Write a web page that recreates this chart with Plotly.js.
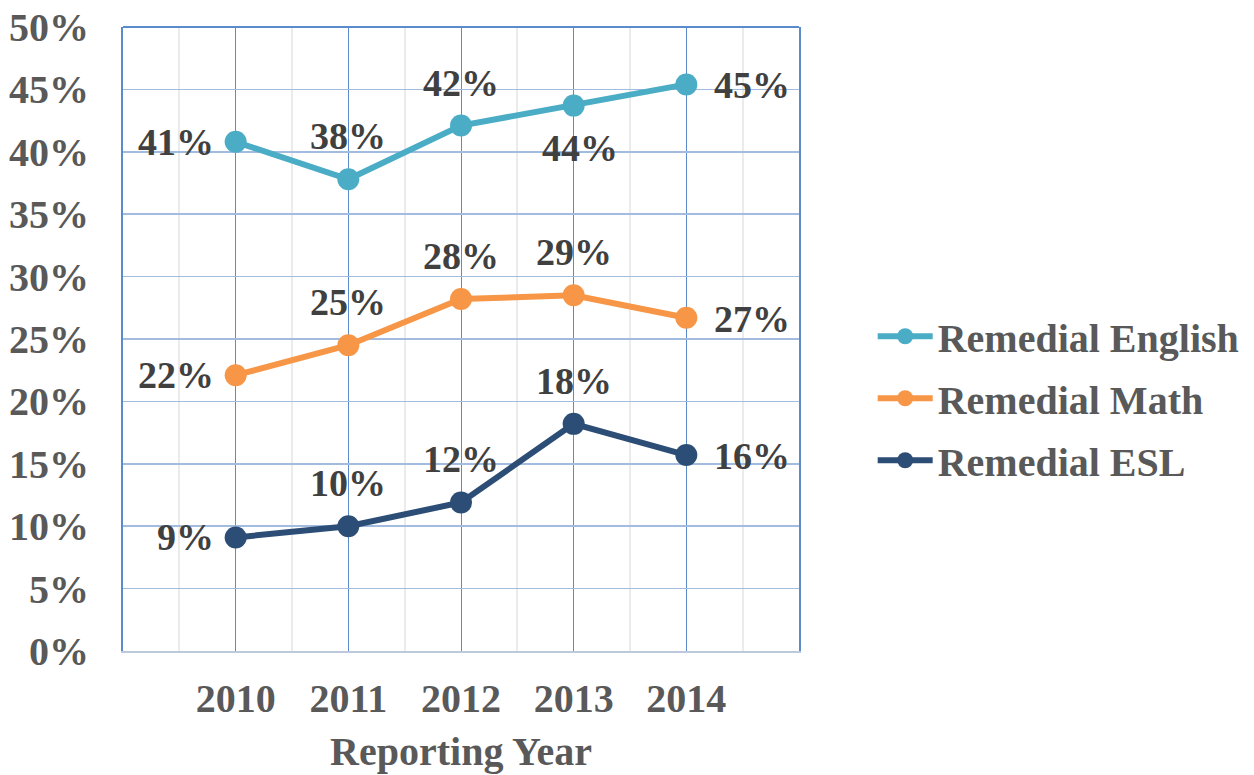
<!DOCTYPE html>
<html>
<head>
<meta charset="utf-8">
<script src="https://cdn.plot.ly/plotly-3.0.1.min.js"></script>
<style>html,body{margin:0;padding:0;background:#fff;}#chart{width:1254px;height:775px;}</style>
</head>
<body>
<div id="chart"></div>
<script>
const years = [2010, 2011, 2012, 2013, 2014];
const english = [40.8, 37.8, 42.1, 43.7, 45.4];
const math = [22.1, 24.5, 28.2, 28.5, 26.7];
const esl = [9.1, 10.0, 11.9, 18.2, 15.7];
const englishLabels = ['41%', '38%', '42%', '44%', '45%'];
const mathLabels = ['22%', '25%', '28%', '29%', '27%'];
const eslLabels = ['9%', '10%', '12%', '18%', '16%'];
const yTicks = [0, 5, 10, 15, 20, 25, 30, 35, 40, 45, 50];

const englishPos = ['left', 'top', 'top', 'bottom', 'right'];
const mathPos = ['left', 'top', 'top', 'top', 'right'];
const eslPos = ['left', 'top', 'top', 'top', 'right'];

const FONT = 'Liberation Serif, Times New Roman, serif';
const C_EN = '#4BACC6', C_MA = '#F79646', C_ES = '#2C4D75';

function trace(name, ys, color, grp) {
  return {
    type: 'scatter', mode: 'lines+markers', name: name, x: years, y: ys,
    legendgroup: grp,
    line: {color: color, width: 6},
    marker: {color: color, size: 22},
    cliponaxis: false
  };
}

function labels(ys, txt, pos) {
  return ys.map((v, i) => {
    const a = {x: years[i], y: v, text: txt[i], showarrow: false, xref: 'x', yref: 'y',
      font: {family: FONT, size: 38, color: '#404040', weight: 'bold'}};
    if (pos[i] === 'left') { a.xanchor = 'right'; a.xshift = -20; a.yshift = 0; }
    else if (pos[i] === 'right') { a.xanchor = 'left'; a.xshift = 26; a.yshift = -1; }
    else if (pos[i] === 'top') { a.yanchor = 'middle'; a.yshift = 43; }
    else { a.yanchor = 'middle'; a.yshift = -42; a.xshift = 6; }
    return a;
  });
}

const data = [
  trace('Remedial English', english, C_EN, 'a'),
  trace('Remedial Math', math, C_MA, 'b'),
  trace('Remedial ESL', esl, C_ES, 'c')
];

const layout = {
  width: 1254, height: 775,
  margin: {l: 123, r: 455, t: 27, b: 124, autoexpand: false},
  paper_bgcolor: '#fff', plot_bgcolor: '#fff',
  showlegend: true,
  legend: {x: 1.109, y: 0.405, xanchor: 'left', yanchor: 'middle',
    font: {family: FONT, size: 40, color: '#595959', weight: 'bold'},
    tracegroupgap: 7, itemwidth: 55, bgcolor: 'rgba(0,0,0,0)'},
  xaxis: {
    range: [2009, 2015], tickvals: years, ticktext: years.map(String),
    showgrid: true, gridcolor: '#5B8BCB', gridwidth: 1,
    minor: {tickvals: [2009.5, 2010.5, 2011.5, 2012.5, 2013.5, 2014.5], showgrid: true, gridcolor: '#EBEBEB', gridwidth: 2, ticklen: 0},
    showline: true, linecolor: '#BCC8DC', linewidth: 2,
    zeroline: false, ticks: '', ticklabelstandoff: 11,
    tickfont: {family: FONT, size: 40, color: '#595959', weight: 'bold'},
    title: {text: 'Reporting Year', standoff: 17,
      font: {family: FONT, size: 40, color: '#595959', weight: 'bold'}},
    fixedrange: true
  },
  yaxis: {
    range: [0, 50], tickvals: yTicks, ticktext: yTicks.map(v => v + '%'),
    showgrid: true, gridcolor: '#A2BCDF', gridwidth: 1.5,
    showline: true, linecolor: '#5B8BCB', linewidth: 2, mirror: true,
    zeroline: false, ticks: '', ticklabelstandoff: 24,
    tickfont: {family: FONT, size: 40, color: '#595959', weight: 'bold'},
    fixedrange: true
  },
  shapes: [{type: 'line', xref: 'paper', yref: 'paper', x0: 0, x1: 1, y0: 1, y1: 1,
    line: {color: '#5B8BCB', width: 2}}],
  annotations: [].concat(labels(english, englishLabels, englishPos),
    labels(math, mathLabels, mathPos), labels(esl, eslLabels, eslPos))
};

Plotly.newPlot('chart', data, layout, {displayModeBar: false, staticPlot: true});
</script>
</body>
</html>
